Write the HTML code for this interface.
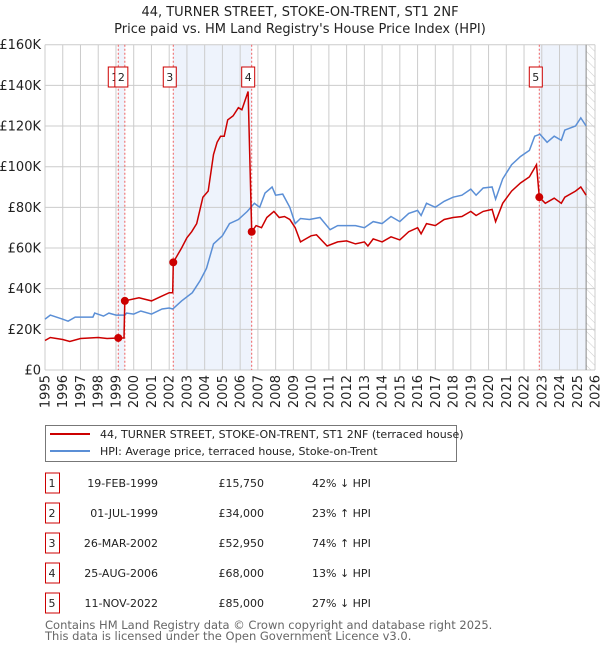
<!DOCTYPE html>
<html><head><meta charset="utf-8"><style>
body{margin:0;background:#fff;font-family:"Liberation Sans","DejaVu Sans",sans-serif;}
svg{display:block}
</style></head><body>
<svg id="chart" width="600" height="650" xmlns="http://www.w3.org/2000/svg" font-family="DejaVu Sans, Liberation Sans, sans-serif">
<defs><pattern id="hatch" width="6" height="6" patternUnits="userSpaceOnUse" patternTransform="rotate(-45)"><line x1="0" y1="0" x2="0" y2="6" stroke="#ccc" stroke-width="1"/></pattern></defs>
<text x="300" y="16" text-anchor="middle" font-size="13" fill="#222">44, TURNER STREET, STOKE-ON-TRENT, ST1 2NF</text>
<text x="300" y="33" text-anchor="middle" font-size="13" fill="#222">Price paid vs. HM Land Registry's House Price Index (HPI)</text>
<g id="plot"></g>
<rect x="45.5" y="425.5" width="411" height="36" fill="#fff" stroke="#777"/>
<line x1="50" y1="434" x2="90" y2="434" stroke="#cc0000" stroke-width="2"/>
<text x="100" y="438" font-size="11" fill="#222">44, TURNER STREET, STOKE-ON-TRENT, ST1 2NF (terraced house)</text>
<line x1="50" y1="451" x2="90" y2="451" stroke="#5b8fd6" stroke-width="2"/>
<text x="100" y="455" font-size="11" fill="#222">HPI: Average price, terraced house, Stoke-on-Trent</text>
<g id="table" font-size="11" fill="#222"></g>
<text x="45" y="629" font-size="11.5" fill="#666">Contains HM Land Registry data © Crown copyright and database right 2025.</text>
<text x="45" y="640" font-size="11.5" fill="#666">This data is licensed under the Open Government Licence v3.0.</text>
</svg>
<script>
const hpiYears=[1995,1995.3,1996,1996.3,1996.7,1997.7,1997.8,1998.3,1998.6,1999,1999.5,1999.6,2000,2000.4,2001,2001.6,2002,2002.2,2002.7,2003.3,2003.45,2003.75,2004.1,2004.5,2005,2005.4,2005.9,2006.4,2006.8,2007.1,2007.4,2007.8,2008,2008.4,2008.8,2009.1,2009.4,2009.9,2010.5,2011.07,2011.5,2012.5,2013,2013.5,2014,2014.5,2015,2015.5,2016,2016.2,2016.5,2017,2017.5,2018,2018.5,2019,2019.3,2019.7,2020.2,2020.4,2020.8,2021.3,2021.8,2022.3,2022.6,2022.9,2023.3,2023.7,2024.1,2024.3,2024.9,2025.2,2025.5];
const hpiValues=[25,27,25,24,26,26,28,26.5,28,27,27,28,27.5,29,27.5,30,30.5,30,34,38,40,44,50,62,66,72,74,78,82,80,87,90,86,86.5,80,72,74.5,74,75,69,71,71,70,73,72,75.5,73,77,78.5,76,82,80,83,85,86,89,86,89.5,90,84,94,101,105,108,115,116,112,115,113,118,120,124,120];
const propYears=[1995,1995.3,1996,1996.4,1997,1998,1998.5,1999.13,1999.45,1999.5,2000.3,2001,2001.5,2002,2002.2,2002.23,2002.7,2003.0,2003.27,2003.55,2003.9,2004.2,2004.5,2004.7,2004.9,2005.1,2005.3,2005.6,2005.9,2006.1,2006.45,2006.65,2006.9,2007.2,2007.5,2007.9,2008.2,2008.5,2008.8,2009.1,2009.4,2009.6,2010,2010.3,2010.9,2011.5,2012,2012.5,2013,2013.2,2013.5,2014,2014.5,2015,2015.5,2016,2016.2,2016.5,2017,2017.5,2018,2018.5,2019,2019.3,2019.7,2020.2,2020.4,2020.8,2021.3,2021.8,2022.3,2022.7,2022.86,2023.2,2023.7,2024.1,2024.3,2024.9,2025.2,2025.5];
const propValues=[14.5,16,15,14,15.5,16,15.5,15.75,15.75,34,35.5,34,36,38,38,52.95,60,65,68,72,85,88,106,112,115,115,123,125,129,128,137,68,71,70,75,78,75,75.5,74,70,63,64,66,66.5,61,63,63.5,62,63,61,64.5,63,65.5,64,68,70,67,72,71,74,75,75.5,78,76,78,79,73,82,88,92,95,101,85,82,84.5,82,85,88,90,86];
const saleIds=["1","2","3","4","5"];
const saleYears=[1999.13,1999.5,2002.23,2006.65,2022.86];
const saleValues=[15.75,34,52.95,68,85];
const saleDates=["19-FEB-1999","01-JUL-1999","26-MAR-2002","25-AUG-2006","11-NOV-2022"];
const salePrices=["£15,750","£34,000","£52,950","£68,000","£85,000"];
const saleHpi=["42% ↓ HPI","23% ↑ HPI","74% ↑ HPI","13% ↓ HPI","27% ↓ HPI"];
const yTicks=[0,20,40,60,80,100,120,140,160];
const yTickLabels=["£0","£20K","£40K","£60K","£80K","£100K","£120K","£140K","£160K"];
const xTicks=[1995,1996,1997,1998,1999,2000,2001,2002,2003,2004,2005,2006,2007,2008,2009,2010,2011,2012,2013,2014,2015,2016,2017,2018,2019,2020,2021,2022,2023,2024,2025,2026];
const dataEnd=2025.5;

const L=45,R=595,T=44.7,B=370,x0=1995,x1=2026,vMax=160;
const X=y=>L+(y-x0)/(x1-x0)*(R-L);
const Y=v=>B-v/vMax*(B-T);
const NS="http://www.w3.org/2000/svg";
const plot=document.getElementById('plot');
function mk(tag,attrs,parent){const e=document.createElementNS(NS,tag);for(const k in attrs)e.setAttribute(k,attrs[k]);(parent||plot).appendChild(e);return e;}

const shadeRanges=[[saleYears[0],saleYears[1]],[saleYears[2],saleYears[3]],[saleYears[4],dataEnd]];
shadeRanges.forEach(r=>{const e=mk('rect',{x:X(r[0]),y:T,width:X(r[1])-X(r[0]),height:B-T,fill:'#eef3fc'});

});
const h=mk('rect',{x:X(dataEnd),y:T,width:R-X(dataEnd),height:B-T,fill:'url(#hatch)'});


yTicks.forEach((v,i)=>{const g=mk('line',{x1:L,x2:R,y1:Y(v),y2:Y(v),stroke:'#ccc','stroke-width':1});


const t=mk('text',{x:L-4,y:Y(v)+4.5,'text-anchor':'end','font-size':13,fill:'#222'});t.textContent=yTickLabels[i];

});
xTicks.forEach(yr=>{const g=mk('line',{x1:X(yr),x2:X(yr),y1:T,y2:B,stroke:'#ccc','stroke-width':1});


const t=mk('text',{x:0,y:0,'text-anchor':'end','font-size':13,fill:'#222',transform:`translate(${X(yr)+4.5},${B+5}) rotate(-90)`});t.textContent=yr;

});
const dl=mk('line',{x1:X(dataEnd),x2:X(dataEnd),y1:T,y2:B,stroke:'#888','stroke-width':1});


saleYears.forEach(yr=>{const e=mk('line',{x1:X(yr),x2:X(yr),y1:T,y2:B,stroke:'#f06060','stroke-width':1,'stroke-dasharray':'2,2'});

});
const path=(xs,vs)=>xs.map((x,i)=>(i?'L':'M')+X(x).toFixed(1)+','+Y(vs[i]).toFixed(1)).join('');
const hl=mk('path',{d:path(hpiYears,hpiValues),fill:'none',stroke:'#5b8fd6','stroke-width':1.5});


const pl=mk('path',{d:path(propYears,propValues),fill:'none',stroke:'#cc0000','stroke-width':1.5});


saleYears.forEach((yr,i)=>{const c=mk('circle',{cx:X(yr),cy:Y(saleValues[i]),r:4,fill:'#cc0000'});


const bx=X(yr)-3.5;
const r=mk('rect',{x:bx-6.5,y:67,width:13,height:20,fill:'#fff',stroke:'#cc0000','stroke-width':1});


const t=mk('text',{x:bx,y:81,'text-anchor':'middle','font-size':11,fill:'#222'});t.textContent=saleIds[i];

});
const tb=document.getElementById('table');
saleIds.forEach((id,i)=>{const cy=483+i*30;
const r=mk('rect',{x:45.5,y:cy-10,width:14,height:20,fill:'#fff',stroke:'#cc0000'},tb);


const cells=[[52,'middle',id],[158,'end',saleDates[i]],[264,'end',salePrices[i]],[312,'start',saleHpi[i]]];
cells.forEach(c=>{const t=mk('text',{x:c[0],y:cy+4,'text-anchor':c[1]},tb);t.textContent=c[2];

});});
</script>
</body></html>
